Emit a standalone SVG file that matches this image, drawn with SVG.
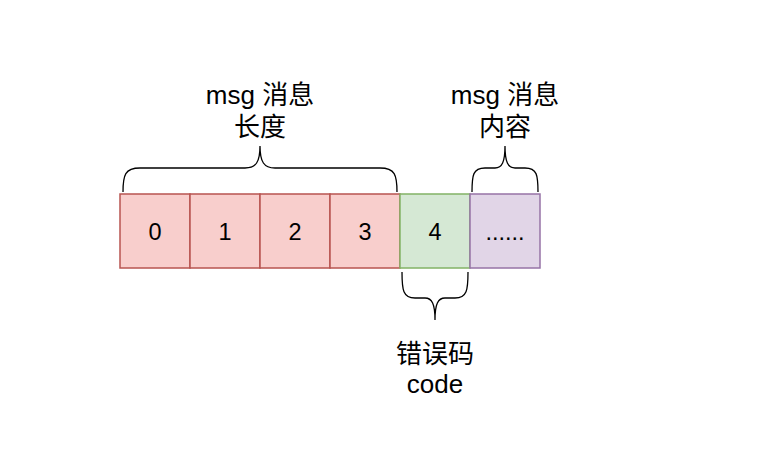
<svg xmlns="http://www.w3.org/2000/svg" width="766" height="469" viewBox="0 0 766 469">
<style>
  text { font-family: "Liberation Sans", "Noto Sans CJK SC", sans-serif; fill: #000; text-anchor: middle; }
  .lbl { font-size: 26px; }
  .num { font-size: 23.5px; }
  .red { fill: #f8cecc; stroke: #b85450; stroke-width: 1.5; }
  .green { fill: #d5e8d4; stroke: #82b366; stroke-width: 1.5; }
  .purple { fill: #e1d5e7; stroke: #9673a6; stroke-width: 1.5; }
  .brace { fill: none; stroke: #000; stroke-width: 1.3; }
</style>
<rect width="766" height="469" fill="#fff"/>
<g id="cell0"><rect class="red" x="120" y="194" width="70" height="74"/><text class="num" x="155" y="240">0</text></g>
<g id="cell1"><rect class="red" x="190" y="194" width="70" height="74"/><text class="num" x="225" y="240">1</text></g>
<g id="cell2"><rect class="red" x="260" y="194" width="70" height="74"/><text class="num" x="295" y="240">2</text></g>
<g id="cell3"><rect class="red" x="330" y="194" width="70" height="74"/><text class="num" x="365" y="240">3</text></g>
<g id="cell4"><rect class="green" x="400" y="194" width="70" height="74"/><text class="num" x="435" y="240">4</text></g>
<g id="cell5"><rect class="purple" x="470" y="194" width="70" height="74"/><text class="num" x="505" y="240">......</text></g>
<g id="connectors">
  <path class="brace" d="M123,192 C123,175 125,168 140,168 L245,168 C256,168 260,162 260,146 C260,162 264,168 275,168 L380,168 C395,168 397,175 397,192"/>
  <path class="brace" d="M472,192 C472,175 473,168 485,168 L495,168 C502,168 505,162 505,146 C505,162 508,168 515,168 L525,168 C537,168 538,175 538,192"/>
  <path class="brace" d="M402,272 C402,290 403,298 415,298 L425,298 C432,298 435,304 435,320 C435,304 438,298 445,298 L455,298 C467,298 468,290 468,272"/>
</g>
<g id="label-length"><text class="lbl" x="260" y="104">msg 消息</text><text class="lbl" x="260" y="136">长度</text></g>
<g id="label-content"><text class="lbl" x="505" y="104">msg 消息</text><text class="lbl" x="505" y="136">内容</text></g>
<g id="label-code"><text class="lbl" x="435" y="363">错误码</text><text class="lbl" x="435" y="393">code</text></g>
</svg>
